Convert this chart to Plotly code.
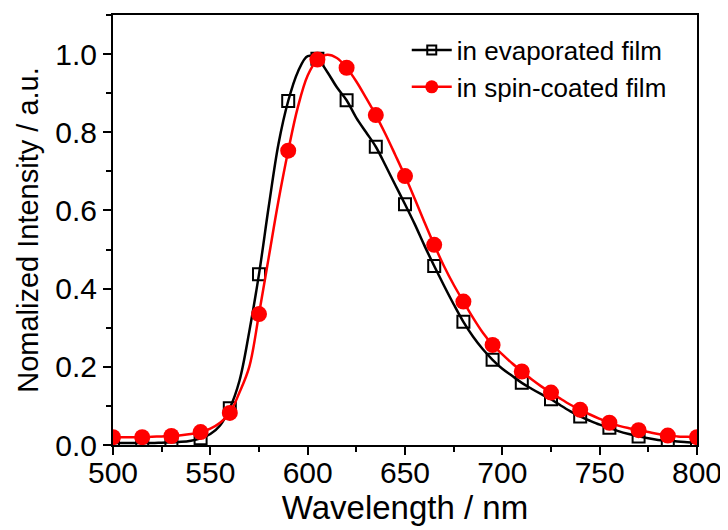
import plotly.graph_objects as go

# wavelength grid (nm), 5 nm steps
wavelength = list(range(500, 805, 5))

evaporated = [
    0.005, 0.005, 0.005, 0.005, 0.005, 0.006, 0.007, 0.008, 0.011, 0.017,
    0.028, 0.05, 0.094, 0.165, 0.29, 0.437, 0.61, 0.77, 0.88, 0.955,
    0.995, 0.988, 0.955, 0.915, 0.882, 0.837, 0.80, 0.763, 0.715, 0.665,
    0.616, 0.565, 0.51, 0.458, 0.408, 0.36, 0.315, 0.277, 0.245, 0.218,
    0.195, 0.177, 0.159, 0.144, 0.13, 0.117, 0.101, 0.086, 0.073, 0.062,
    0.052, 0.044, 0.035, 0.028, 0.022, 0.017, 0.013, 0.011, 0.009, 0.007,
    0.006,
]

spin_coated = [
    0.02, 0.02, 0.02, 0.02, 0.021, 0.022, 0.023, 0.025, 0.028, 0.033,
    0.042, 0.057, 0.082, 0.135, 0.2, 0.335, 0.48, 0.625, 0.753, 0.865,
    0.945, 0.986, 0.998, 0.99, 0.965, 0.93, 0.888, 0.844, 0.795, 0.742,
    0.688, 0.63, 0.57, 0.512, 0.458, 0.41, 0.367, 0.325, 0.287, 0.256,
    0.232, 0.209, 0.188, 0.168, 0.15, 0.134, 0.118, 0.103, 0.09, 0.078,
    0.067, 0.057, 0.049, 0.043, 0.038, 0.033, 0.028, 0.024, 0.022, 0.021,
    0.02,
]

series = [
    ("in evaporated film", evaporated, "black",
     dict(symbol="square-open", size=12, color="black", line=dict(width=2, color="black"))),
    ("in spin-coated film", spin_coated, "#ff0000",
     dict(symbol="circle", size=16, color="#ff0000")),
]

fig = go.Figure()

for name, values, color, marker in series:
    # smooth spectrum
    fig.add_trace(go.Scatter(
        x=wavelength, y=values, mode="lines",
        line=dict(color=color, width=2.5, shape="spline"),
        showlegend=False, legendgroup=name
    ))
    # symbols every 15 nm
    fig.add_trace(go.Scatter(
        x=wavelength[::3], y=values[::3], mode="markers",
        marker=marker, showlegend=False, legendgroup=name
    ))
    # legend entry (line + symbol)
    fig.add_trace(go.Scatter(
        x=[None], y=[None], mode="lines+markers", name=name,
        line=dict(color=color, width=2.5),
        marker=dict(marker, size=marker["size"] - 3),
        legendgroup=name
    ))

axis_style = dict(
    showline=True,
    linecolor="black",
    linewidth=2,
    mirror=True,
    showgrid=False,
    zeroline=False,
    automargin=False,
    ticks="outside",
    ticklen=8,
    tickwidth=2,
    tickcolor="black",
    tickfont=dict(size=30, color="black"),
)

fig.update_xaxes(
    axis_style,
    range=[500, 800],
    dtick=50,
    ticklabelstandoff=-8,
    minor=dict(dtick=25, ticks="outside", ticklen=5, tickwidth=2, tickcolor="black"),
    title=dict(text="Wavelength / nm", font=dict(size=33, color="black"), standoff=0),
)

fig.update_yaxes(
    axis_style,
    range=[0, 1.1],
    tick0=0,
    dtick=0.2,
    tickformat=".1f",
    minor=dict(dtick=0.1, ticks="outside", ticklen=5, tickwidth=2, tickcolor="black"),
    title=dict(text="Nomalized Intensity / a.u.", font=dict(size=29, color="black"), standoff=8),
)

# page body adds an 8 px margin, so the figure is a bit smaller than the window
fig.update_layout(
    width=720,
    height=522,
    margin=dict(l=105, r=31, t=7, b=85),
    paper_bgcolor="white",
    plot_bgcolor="white",
    font=dict(family="Liberation Sans, Arial, sans-serif", color="black"),
    legend=dict(
        x=0.503, y=0.973, xanchor="left", yanchor="top",
        bgcolor="rgba(0,0,0,0)",
        font=dict(size=26, color="black"),
        tracegroupgap=0,
        itemwidth=40,
    ),
)

fig.write_html("out.html")
